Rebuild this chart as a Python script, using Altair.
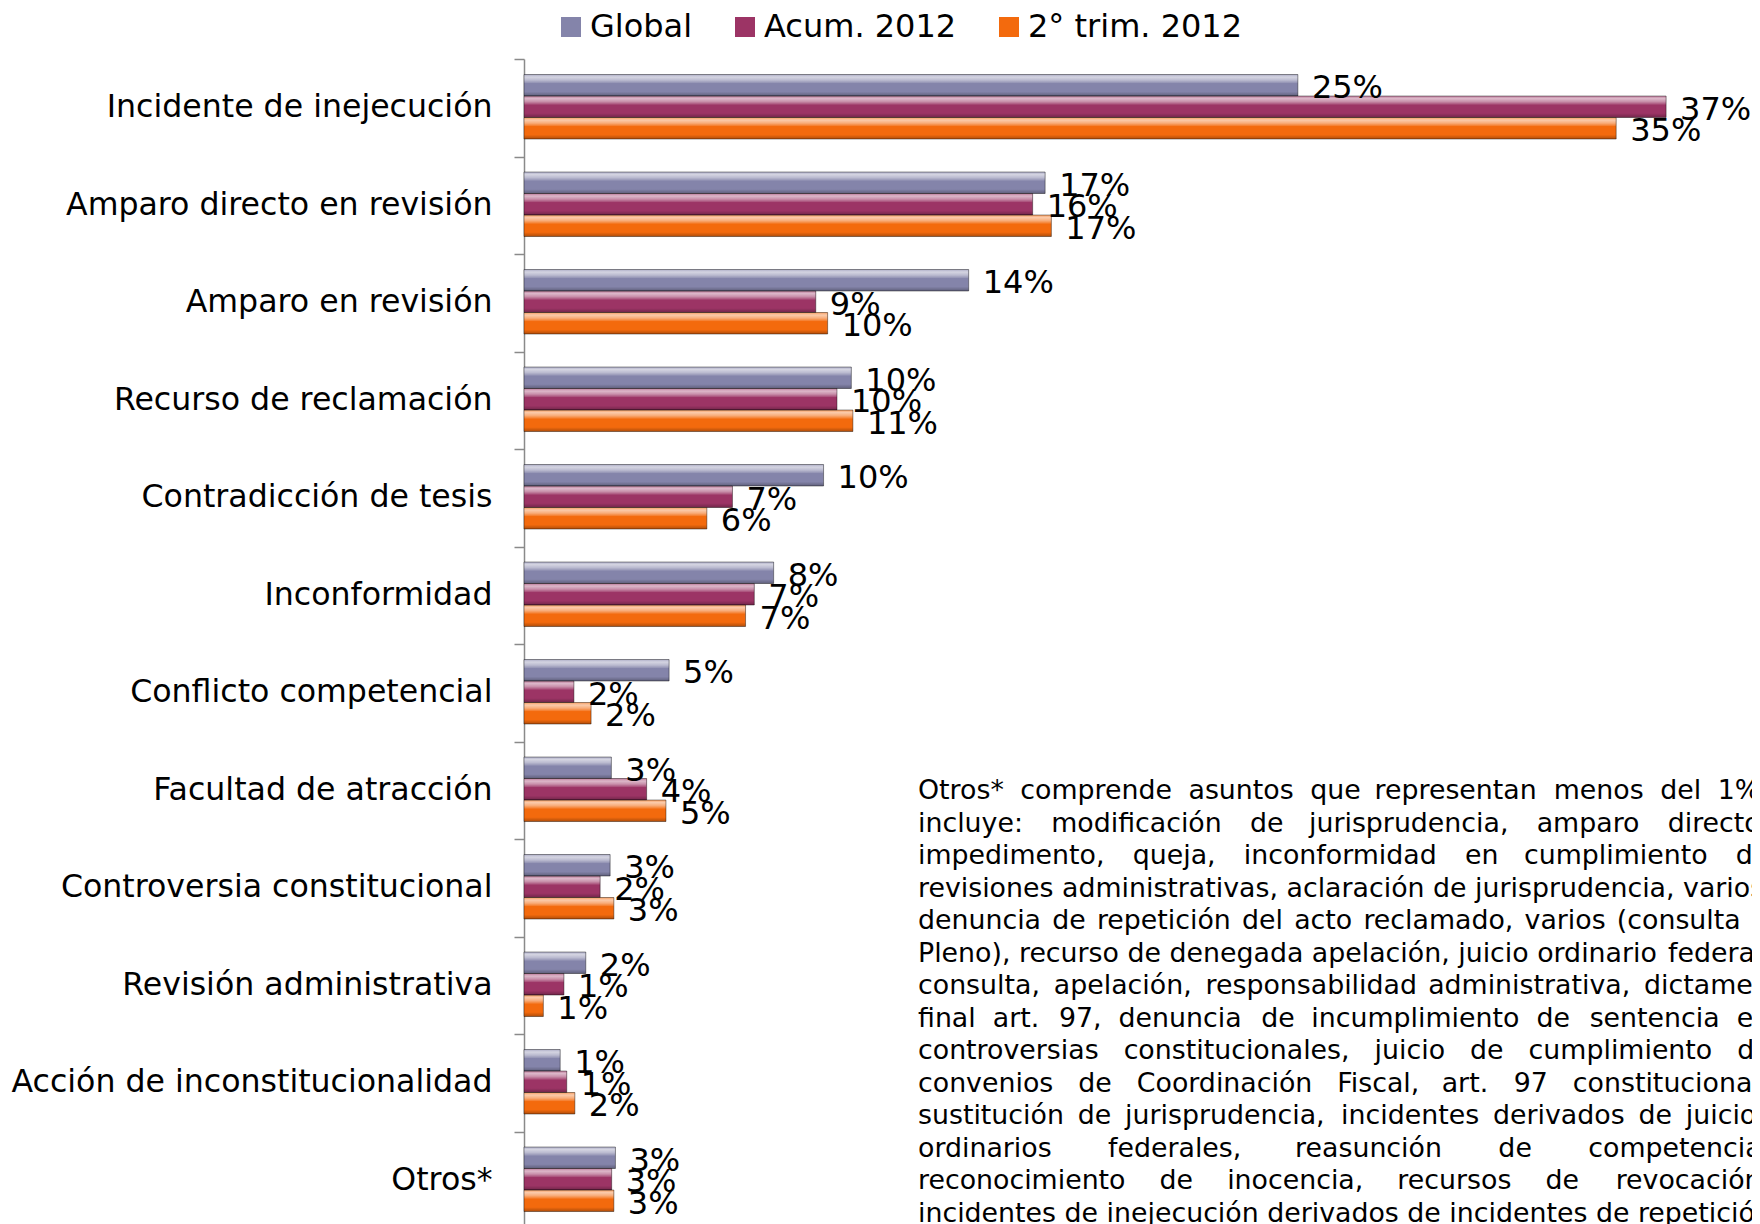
import altair as alt
import pandas as pd

categories = [
    "Incidente de inejecución",
    "Amparo directo en revisión",
    "Amparo en revisión",
    "Recurso de reclamación",
    "Contradicción de tesis",
    "Inconformidad",
    "Conflicto competencial",
    "Facultad de atracción",
    "Controversia constitucional",
    "Revisión administrativa",
    "Acción de inconstitucionalidad",
    "Otros*",
]
series = ["Global", "Acum. 2012", "2° trim. 2012"]
global_vals = [0.248, 0.167, 0.1425, 0.1049, 0.096, 0.080, 0.0465, 0.028, 0.0276, 0.0198, 0.0116, 0.0293]
acum_vals = [0.366, 0.163, 0.0935, 0.1003, 0.0668, 0.0738, 0.016, 0.0393, 0.0244, 0.0128, 0.0137, 0.0281]
trim_vals = [0.350, 0.169, 0.0973, 0.1054, 0.0586, 0.0710, 0.0215, 0.0455, 0.0288, 0.0062, 0.0163, 0.0288]
colors = ["#8484AA", "#9C3465", "#F36A0D"]

note_lines = [
    "Otros* comprende asuntos que representan menos del 1%,",
    "incluye: modificación de jurisprudencia, amparo directo,",
    "impedimento, queja, inconformidad en cumplimiento de",
    "revisiones administrativas, aclaración de jurisprudencia, varios,",
    "denuncia de repetición del acto reclamado, varios (consulta a",
    "Pleno), recurso de denegada apelación, juicio ordinario federal,",
    "consulta, apelación, responsabilidad administrativa, dictamen",
    "final art. 97, denuncia de incumplimiento de sentencia en",
    "controversias constitucionales, juicio de cumplimiento de",
    "convenios de Coordinación Fiscal, art. 97 constitucional,",
    "sustitución de jurisprudencia, incidentes derivados de juicios",
    "ordinarios federales, reasunción de competencia,",
    "reconocimiento de inocencia, recursos de revocación,",
    "incidentes de inejecución derivados de incidentes de repetición",
]

# approximate DejaVu Sans advance widths (em) used to justify the note text
CW = {
    " ": .318, "%": .950, "(": .390, ")": .390, "*": .500, ",": .318, ".": .318, ":": .337,
    "C": .698, "F": .575, "O": .787, "P": .603,
    "a": .613, "b": .635, "c": .550, "d": .635, "e": .615, "f": .352, "g": .635, "h": .634,
    "i": .278, "j": .278, "k": .579, "l": .278, "m": .974, "n": .634, "o": .612, "p": .635,
    "q": .635, "r": .411, "s": .521, "t": .392, "u": .634, "v": .592, "w": .818, "x": .592,
    "y": .592, "z": .525, "á": .613, "é": .615, "í": .278, "ó": .612, "ú": .634,
}
NOTE_SIZE = 26.8
NOTE_WIDTH = 853
NBSP, HAIR = "\u00a0", "\u200a"


def justify(line, size, target):
    words = line.split(" ")
    gaps = len(words) - 1
    natural = sum(CW.get(ch, .636) for ch in line) * size
    sp = CW[" "] * size
    hair = 0.1 * size
    per_gap = sp + max(0.0, target - natural) / gaps
    out = words[0]
    acc = 0.0
    for i in range(gaps):
        want = per_gap + acc
        n_sp = max(1, int(want // sp))
        n_hair = int(round((want - n_sp * sp) / hair))
        acc = want - n_sp * sp - n_hair * hair
        out += NBSP * n_sp + HAIR * n_hair + words[i + 1]
    return out


note_text = [justify(l, NOTE_SIZE, NOTE_WIDTH) for l in note_lines]

rows = []
for s, vals in zip(series, [global_vals, acum_vals, trim_vals]):
    for c, v in zip(categories, vals):
        rows.append({"categoria": c, "serie": s, "valor": v})
df = pd.DataFrame(rows)

FONT = "DejaVu Sans"

base = alt.Chart(df).encode(
    y=alt.Y(
        "categoria:N",
        sort=categories,
        scale=alt.Scale(domain=categories, range=[0, 1170], paddingInner=0, paddingOuter=0),
        axis=alt.Axis(
            title=None, tickBand="extent", tickSize=10, labelPadding=22,
            labelFontSize=31.6, labelFont=FONT, labelColor="#000000", labelLimit=700,
            domainColor="#8a8a8a", tickColor="#8a8a8a", domainWidth=1.5, tickWidth=1.5,
        ),
    ),
    yOffset=alt.YOffset(
        "serie:N", sort=series,
        scale=alt.Scale(domain=series, paddingInner=0, paddingOuter=0.767, align=0.47),
    ),
    x=alt.X("valor:Q", scale=alt.Scale(domain=[0, 0.39]), axis=None),
)

bars = base.mark_bar().encode(
    color=alt.Color(
        "serie:N",
        scale=alt.Scale(domain=series, range=colors),
        legend=alt.Legend(
            title=None, orient="none", legendX=31, legendY=-48, direction="horizontal",
            symbolType="square", symbolSize=400, symbolStrokeWidth=0,
            labelFontSize=32, labelFont=FONT, labelColor="#000000", labelOffset=3,
            labelLimit=600, columnPadding=36, padding=0,
        ),
    )
)

bevel = alt.LinearGradient(
    gradient="linear", x1=0, y1=0, x2=0, y2=1,
    stops=[
        alt.GradientStop(color="rgba(255,255,255,0.35)", offset=0),
        alt.GradientStop(color="rgba(255,255,255,0.65)", offset=0.12),
        alt.GradientStop(color="rgba(255,255,255,0.45)", offset=0.26),
        alt.GradientStop(color="rgba(255,255,255,0.15)", offset=0.38),
        alt.GradientStop(color="rgba(255,255,255,0.0)", offset=0.42),
        alt.GradientStop(color="rgba(0,0,0,0.0)", offset=0.80),
        alt.GradientStop(color="rgba(0,0,0,0.28)", offset=1),
    ],
)
overlay = base.mark_bar(fill=bevel, stroke="rgba(0,0,0,0.4)", strokeWidth=1)

labels = base.mark_text(
    align="left", baseline="middle", dx=14, dy=3, fontSize=32, font=FONT, color="#000000"
).encode(text=alt.Text("valor:Q", format=".0%"))

note = alt.Chart(pd.DataFrame({"k": [0]})).mark_text(
    text=note_text, align="left", baseline="alphabetic", lineHeight=32.5,
    fontSize=NOTE_SIZE, font=FONT, color="#000000",
).encode(x=alt.value(394), y=alt.value(740))

chart = alt.layer(bars, overlay, labels, note).properties(
    width=1217,
    height=1165,
    autosize=alt.AutoSizeParams(type="none"),
    padding={"left": 516, "top": 51, "right": 11, "bottom": 0},
).configure_view(stroke=None)

chart.save("out.html", embed_options={"renderer": "svg", "actions": False})
